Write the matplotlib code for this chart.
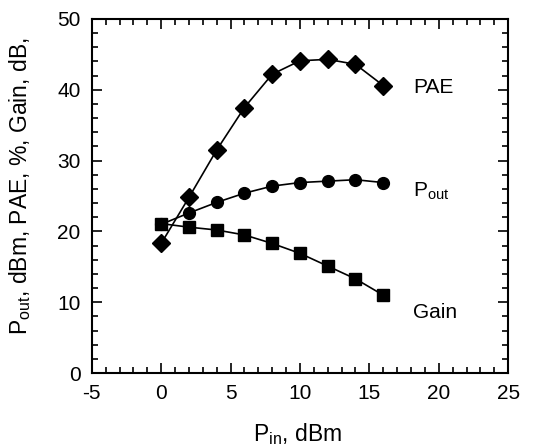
import numpy as np
import matplotlib
matplotlib.use('Agg')
import matplotlib.pyplot as plt
from matplotlib.ticker import MultipleLocator

plt.rcParams['font.family'] = ['Liberation Sans', 'DejaVu Sans']
plt.rcParams['mathtext.fontset'] = 'custom'
plt.rcParams['mathtext.rm'] = 'Liberation Sans'
plt.rcParams['mathtext.it'] = 'Liberation Sans'
plt.rcParams['axes.unicode_minus'] = False

# input power sweep, dBm
pin = [0, 2, 4, 6, 8, 10, 12, 14, 16]
# power added efficiency, %
pae = [18.3, 24.8, 31.5, 37.5, 42.2, 44.1, 44.3, 43.6, 40.6]
# output power, dBm
pout = [21.0, 22.6, 24.1, 25.4, 26.4, 26.9, 27.1, 27.3, 26.9]
# gain, dB
gain = [21.1, 20.6, 20.2, 19.5, 18.3, 16.9, 15.1, 13.3, 11.0]

curve_labels = ['PAE', r'P$_{\rm out}$', 'Gain']
label_y = [40.3, 25.6, 8.5]


def draw_curves(ax):
    ax.plot(pin, pae, color='k', lw=1.2, marker='D', ms=9, zorder=3)
    ax.plot(pin, pout, color='k', lw=1.2, marker='o', ms=8.5, zorder=3)
    ax.plot(pin, gain, color='k', lw=1.2, marker='s', ms=8, zorder=4)


def style_axes(ax):
    ax.set_xlim(-5, 25)
    ax.set_ylim(0, 50)
    ax.xaxis.set_major_locator(MultipleLocator(5))
    ax.xaxis.set_minor_locator(MultipleLocator(1))
    ax.yaxis.set_major_locator(MultipleLocator(10))
    ax.yaxis.set_minor_locator(MultipleLocator(2))
    ax.tick_params(which='both', direction='in', top=True, right=True,
                   labelsize=15, width=1.2)
    ax.tick_params(which='major', length=7, pad=8)
    ax.tick_params(which='minor', length=4)
    for s in ax.spines.values():
        s.set_linewidth(1.5)


def main():
    fig = plt.figure(figsize=(5.4, 4.47), dpi=100)
    ax = fig.add_axes([0.170, 0.1655, 0.771, 0.792])
    draw_curves(ax)
    style_axes(ax)
    for text, y in zip(curve_labels, label_y):
        ax.text(18.15, y, text, fontsize=15, va='center', ha='left')
    ax.set_xlabel(r'P$_{\rm in}$, dBm', fontsize=16.5)
    ax.xaxis.set_label_coords(0.493, -0.135)
    ax.set_ylabel(r'P$_{\rm out}$, dBm, PAE, %, Gain, dB,', fontsize=16.5)
    ax.yaxis.set_label_coords(-0.142, 0.528)
    fig.savefig('out.png', dpi=100)


if __name__ == "__main__":
    main()
